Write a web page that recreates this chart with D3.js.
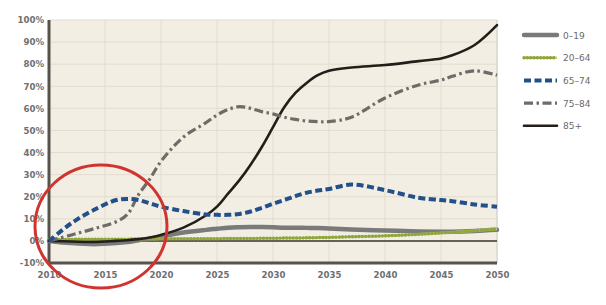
<!DOCTYPE html>
<html><head><meta charset="utf-8">
<script src="https://cdn.jsdelivr.net/npm/d3@7"></script>
<style>html,body{margin:0;padding:0;background:#fff;}svg{display:block;}</style>
</head><body>
<svg id="chart" width="606" height="305"></svg>
<script>
const years = [2010,2012,2014,2016,2017,2018,2019,2020,2022,2024,2025,2026,2027,2028,2029,2030,2031,2032,2033,2034,2035,2037,2040,2043,2045,2046,2048,2050];
const s0_19  = [0,-1,-1.5,-1,-0.5,0.3,1,2,3.8,5,5.5,6,6.2,6.3,6.3,6.2,6,6,5.9,5.8,5.6,5.2,4.7,4.3,4.2,4.2,4.5,5];
const s20_64 = [0.6,0.7,0.8,0.8,0.8,0.9,0.9,0.9,1,1,1,1.1,1.1,1.1,1.2,1.2,1.3,1.3,1.4,1.5,1.6,1.9,2.3,3,3.6,3.9,4.6,5.4];
const s65_74 = [0,8,14,18.5,19,18.5,17,15.5,13.5,12,11.8,11.8,12.2,13.3,15,16.8,18.5,20.3,21.8,22.8,23.5,25.5,23,19.5,18.5,18,16.5,15.5];
const s75_84 = [0,2.7,5.5,8.7,12,21,28,36,47,53.5,57,59.5,60.8,60,58.5,57.5,56,55,54.3,54,54,56,64.7,70.6,72.8,74.5,77,75];
const s85p   = [0,-0.3,-0.5,0,0.3,0.8,1.5,2.7,6,11.5,15.5,21.5,27.5,34.5,42.5,51.5,60.5,67,71.5,75,77,78.5,79.6,81.4,82.6,84,88.7,97.7];
const seriesNames = ["0–19","20–64","65–74","75–84","85+"];
const yTicks = [-10,0,10,20,30,40,50,60,70,80,90,100];
const xTicks = [2010,2015,2020,2025,2030,2035,2040,2045,2050];

const styles = [
  {color:"#7a7a7a", width:4.5, dash:null, cap:"round"},
  {color:"#8fa63a", width:3.4, dash:"0.1 3.2", cap:"round", base:"#c3cf86"},
  {color:"#22508a", width:4, dash:"7 3.5", cap:"butt"},
  {color:"#6e6b68", width:3.2, dash:"9 3.5 2.5 3.5", cap:"butt"},
  {color:"#231e19", width:2.6, dash:null, cap:"round"}
];
const seriesData = [s0_19, s20_64, s65_74, s75_84, s85p];

const svg = d3.select("#chart");
const L=49, R=497, T=20, B=263;
const x = d3.scaleLinear().domain([2010,2050]).range([L,R]);
const y = d3.scaleLinear().domain([-10,100]).range([B,T]);

svg.append("rect").attr("x",L).attr("y",T).attr("width",R-L).attr("height",B-T).attr("fill","#f2eee4");

// grid
svg.append("g").selectAll("line").data(yTicks).join("line")
  .attr("x1",L).attr("x2",R).attr("y1",d=>y(d)).attr("y2",d=>y(d))
  .attr("stroke","#e3dccf").attr("stroke-width",1);
svg.append("g").selectAll("line").data(xTicks).join("line")
  .attr("x1",d=>x(d)).attr("x2",d=>x(d)).attr("y1",T).attr("y2",B)
  .attr("stroke","#e3dccf").attr("stroke-width",1);
svg.append("line").attr("x1",R).attr("x2",R).attr("y1",T).attr("y2",B).attr("stroke","#ddd8cf").attr("stroke-width",1.5);

// zero line
svg.append("line").attr("x1",L).attr("x2",R).attr("y1",y(0)).attr("y2",y(0)).attr("stroke","#3a3530").attr("stroke-width",1.5);

// axes
const yAxis = d3.axisLeft(y).tickValues(yTicks).tickSize(0).tickPadding(5).tickFormat(d=>d+"%");
const gy = svg.append("g").attr("transform",`translate(${L},0)`).call(yAxis);
const xAxis = d3.axisBottom(x).tickValues(xTicks).tickSize(0).tickPadding(9).tickFormat(d3.format("d"));
const gx = svg.append("g").attr("transform",`translate(0,${B})`).call(xAxis);
[gy,gx].forEach(g=>{
  g.select(".domain").remove();
  g.selectAll("text").attr("fill","#707070").attr("font-family","DejaVu Sans").attr("font-weight","bold").attr("font-size","8.6px");
});
svg.append("line").attr("x1",L).attr("x2",L).attr("y1",T).attr("y2",B+1.5).attr("stroke","#57524c").attr("stroke-width",3);
svg.append("line").attr("x1",L).attr("x2",R).attr("y1",B).attr("y2",B).attr("stroke","#57524c").attr("stroke-width",3);

// lines
const line = d3.line().x((d,i)=>x(years[i])).y(d=>y(d)).curve(d3.curveCatmullRom.alpha(0.5));
const drawOrder = [0,1,4,3,2];
drawOrder.forEach(k=>{
  const st = styles[k];
  if (st.base) {
    svg.append("path").datum(seriesData[k]).attr("d",line)
      .attr("fill","none").attr("stroke",st.base).attr("stroke-width",2.4);
  }
  svg.append("path").datum(seriesData[k]).attr("d",line)
    .attr("fill","none").attr("stroke",st.color).attr("stroke-width",st.width)
    .attr("stroke-dasharray",st.dash).attr("stroke-linecap",st.cap).attr("stroke-linejoin","round");
});

// legend
const lg = svg.append("g");
seriesNames.forEach((name,i)=>{
  const st = styles[i];
  const ly = 35 + i*22.7;
  if (st.base) {
    lg.append("line").attr("x1",524).attr("x2",557).attr("y1",ly).attr("y2",ly)
      .attr("stroke",st.base).attr("stroke-width",2.4);
  }
  lg.append("line").attr("x1",524).attr("x2",557).attr("y1",ly).attr("y2",ly)
    .attr("stroke",st.color).attr("stroke-width",st.width)
    .attr("stroke-dasharray",st.dash).attr("stroke-linecap",st.cap);
  lg.append("text").attr("x",563).attr("y",ly+3.5).text(name)
    .attr("fill","#6a6a6a").attr("font-family","DejaVu Sans").attr("font-size","9px");
});

// red circle
svg.append("ellipse").attr("cx",101).attr("cy",226.5).attr("rx",66).attr("ry",61.5)
  .attr("fill","none").attr("stroke","#d0342e").attr("stroke-width",3);
</script>
</body></html>
